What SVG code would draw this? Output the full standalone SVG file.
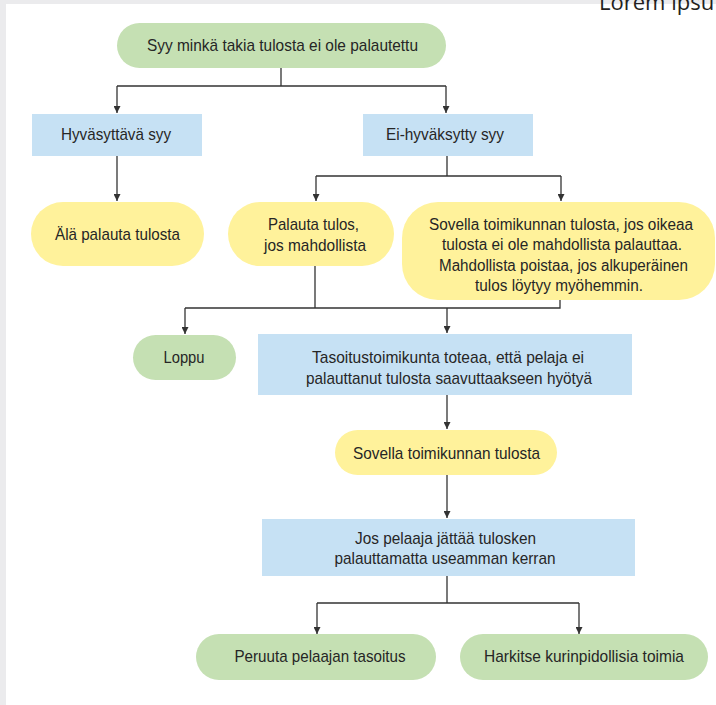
<svg xmlns="http://www.w3.org/2000/svg" width="716" height="705" viewBox="0 0 716 705">
<defs>
<style>
.t{font-family:"Liberation Sans",Arial,sans-serif;font-size:17px;fill:#262626;text-anchor:middle;}
.s{font-size:16px;}
.g{fill:#c5e0b3;}
.y{fill:#fff29b;}
.b{fill:#c6e1f4;}
.c{fill:none;stroke:#333;stroke-width:1.3;}
.a{fill:none;stroke:#333;stroke-width:1.3;marker-end:url(#arr);}
</style>
<marker id="arr" viewBox="0 0 10 10" refX="10" refY="5" markerWidth="7" markerHeight="7" markerUnits="userSpaceOnUse" orient="auto">
<path d="M0,0 L10,5 L0,10 z" fill="#333"/>
</marker>
</defs>
<rect x="0" y="0" width="716" height="705" fill="#ebebed"/>
<rect x="6" y="4" width="710" height="701" fill="#ffffff"/>
<text x="599" y="10" font-family="'Open Sans',sans-serif" font-size="22" fill="#231f20">Lorem ipsu</text>

<g id="connectors">
<path class="c" d="M281,68 V86 M117,86 H446"/>
<path class="a" d="M117,86 V113"/>
<path class="a" d="M446,86 V113"/>
<path class="a" d="M117,156 V201"/>
<path class="c" d="M447,156 V176 M316,176 H561"/>
<path class="a" d="M316,176 V201"/>
<path class="a" d="M561,176 V201"/>
<path class="c" d="M315,266 V308 M185,308 H560 V300"/>
<path class="a" d="M185,308 V334"/>
<path class="a" d="M447,308 V333"/>
<path class="a" d="M447,395 V429"/>
<path class="a" d="M447,475 V518"/>
<path class="c" d="M447,576 V603 M317,603 H579"/>
<path class="a" d="M317,603 V634"/>
<path class="a" d="M579,603 V634"/>
</g>

<g id="n1"><rect class="g" x="117" y="23" width="329" height="45" rx="22.5"/><text class="t" x="282.5" y="51" textLength="271" lengthAdjust="spacingAndGlyphs">Syy minkä takia tulosta ei ole palautettu</text></g>
<g id="n2"><rect class="b" x="32" y="114" width="170" height="42"/><text class="t" x="116" y="140" textLength="110" lengthAdjust="spacingAndGlyphs">Hyväsyttävä syy</text></g>
<g id="n3"><rect class="b" x="363" y="114" width="170" height="42"/><text class="t" x="445" y="140" textLength="118" lengthAdjust="spacingAndGlyphs">Ei-hyväksytty syy</text></g>
<g id="n4"><rect class="y" x="31" y="202" width="173" height="64" rx="32"/><text class="t" x="117.5" y="240" textLength="125" lengthAdjust="spacingAndGlyphs">Älä palauta tulosta</text></g>
<g id="n5"><rect class="y" x="228" y="202" width="166" height="64" rx="32"/><text class="t" x="313.5" y="230" textLength="91" lengthAdjust="spacingAndGlyphs">Palauta tulos,</text><text class="t" x="315" y="251" textLength="102" lengthAdjust="spacingAndGlyphs">jos mahdollista</text></g>
<g id="n6"><rect class="y" x="402" y="202" width="313" height="98" rx="36"/>
<text class="t s" x="561" y="230" textLength="264" lengthAdjust="spacingAndGlyphs">Sovella toimikunnan tulosta, jos oikeaa</text>
<text class="t s" x="562" y="250" textLength="240" lengthAdjust="spacingAndGlyphs">tulosta ei ole mahdollista palauttaa.</text>
<text class="t s" x="563.5" y="271" textLength="249" lengthAdjust="spacingAndGlyphs">Mahdollista poistaa, jos alkuperäinen</text>
<text class="t s" x="559" y="291" textLength="168" lengthAdjust="spacingAndGlyphs">tulos löytyy myöhemmin.</text></g>
<g id="n7"><rect class="g" x="133" y="335" width="103" height="45" rx="22.5"/><text class="t" x="184" y="363" textLength="41" lengthAdjust="spacingAndGlyphs">Loppu</text></g>
<g id="n8"><rect class="b" x="258" y="334" width="374" height="61"/><text class="t" x="448" y="363" textLength="272" lengthAdjust="spacingAndGlyphs">Tasoitustoimikunta toteaa, että pelaja ei</text><text class="t" x="449" y="384" textLength="286" lengthAdjust="spacingAndGlyphs">palauttanut tulosta saavuttaakseen hyötyä</text></g>
<g id="n9"><rect class="y" x="335" y="430" width="222" height="45" rx="22.5"/><text class="t" x="446.5" y="459" textLength="187" lengthAdjust="spacingAndGlyphs">Sovella toimikunnan tulosta</text></g>
<g id="n10"><rect class="b" x="262" y="519" width="373" height="57"/><text class="t" x="445.5" y="544" textLength="181" lengthAdjust="spacingAndGlyphs">Jos pelaaja jättää tulosken</text><text class="t" x="445" y="564" textLength="221" lengthAdjust="spacingAndGlyphs">palauttamatta useamman kerran</text></g>
<g id="n11"><rect class="g" x="196" y="634" width="240" height="46" rx="23"/><text class="t" x="320" y="662" textLength="171" lengthAdjust="spacingAndGlyphs">Peruuta pelaajan tasoitus</text></g>
<g id="n12"><rect class="g" x="460" y="634" width="248" height="46" rx="23"/><text class="t" x="584" y="662" textLength="200" lengthAdjust="spacingAndGlyphs">Harkitse kurinpidollisia toimia</text></g>
</svg>
